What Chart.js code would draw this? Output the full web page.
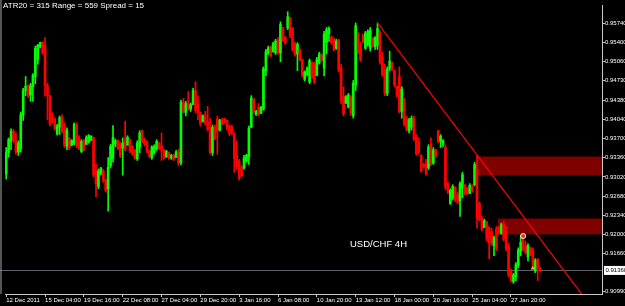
<!DOCTYPE html>
<html>
<head>
<meta charset="utf-8">
<script src="https://cdn.jsdelivr.net/npm/chart.js@4.4.1/dist/chart.umd.min.js"></script>
<style>
  html, body { margin: 0; padding: 0; background: #000; }
  #wrap { width: 625px; height: 306px; }
</style>
</head>
<body>
<div id="wrap"><canvas id="fxChart" width="625" height="306"></canvas></div>
<script>
// USD/CHF 4H candles
const open = [
  0.9307,0.9345,0.9366,0.9383,0.9366,0.9346,0.9352,0.9412,0.9455,0.9463,
  0.9447,0.9462,0.9480,0.9510,0.9533,0.9540,0.9535,0.9464,0.9446,0.9412,
  0.9404,0.9378,0.9390,0.9408,0.9392,0.9356,0.9370,0.9358,0.9362,0.9395,
  0.9372,0.9347,0.9366,0.9360,0.9364,0.9367,0.9372,0.9315,0.9285,0.9308,
  0.9313,0.9296,0.9281,0.9322,0.9335,0.9360,0.9366,0.9360,0.9353,0.9368,
  0.9358,0.9368,0.9356,0.9350,0.9334,0.9355,0.9382,0.9368,0.9365,0.9348,
  0.9336,0.9345,0.9352,0.9362,0.9357,0.9350,0.9338,0.9345,0.9335,0.9340,
  0.9336,0.9346,0.9327,0.9434,0.9416,0.9432,0.9422,0.9430,0.9455,0.9432,
  0.9416,0.9400,0.9412,0.9400,0.9388,0.9345,0.9390,0.9405,0.9385,0.9403,
  0.9405,0.9402,0.9392,0.9390,0.9377,0.9340,0.9330,0.9318,0.9318,0.9330,
  0.9338,0.9390,0.9440,0.9412,0.9425,0.9415,0.9422,0.9490,0.9522,0.9532,
  0.9524,0.9522,0.9544,0.9522,0.9566,0.9550,0.9566,0.9584,0.9566,0.9538,
  0.9520,0.9528,0.9510,0.9475,0.9484,0.9470,0.9505,0.9500,0.9482,0.9505,
  0.9518,0.9495,0.9540,0.9556,0.9550,0.9546,0.9530,0.9544,0.9495,0.9445,
  0.9433,0.9426,0.9444,0.9410,0.9465,0.9555,0.9535,0.9553,0.9530,0.9536,
  0.9530,0.9548,0.9533,0.9535,0.9558,0.9515,0.9490,0.9450,0.9494,0.9505,
  0.9490,0.9462,0.9480,0.9418,0.9440,0.9405,0.9384,0.9390,0.9406,0.9372,
  0.9365,0.9340,0.9324,0.9325,0.9318,0.9360,0.9326,0.9350,0.9383,0.9365,
  0.9360,0.9354,0.9290,0.9255,0.9265,0.9284,0.9270,0.9260,0.9282,0.9288,
  0.9282,0.9273,0.9287,0.9288,0.9316,0.9255,0.9228,0.9212,0.9222,0.9212,
  0.9205,0.9180,0.9210,0.9212,0.9202,0.9218,0.9205,0.9180,0.9135,0.9116,
  0.9125,0.9145,0.9170,0.9190,0.9180,0.9160,0.9176,0.9172,0.9135,0.9156,
  0.9140
];
const high = [
  0.9354,0.9371,0.9387,0.9386,0.9380,0.9366,0.9417,0.9459,0.9480,0.9465,
  0.9468,0.9485,0.9534,0.9537,0.9541,0.9542,0.9549,0.9468,0.9447,0.9416,
  0.9407,0.9395,0.9410,0.9412,0.9398,0.9389,0.9372,0.9368,0.9398,0.9398,
  0.9375,0.9368,0.9368,0.9375,0.9377,0.9375,0.9372,0.9324,0.9316,0.9319,
  0.9315,0.9298,0.9336,0.9360,0.9393,0.9369,0.9367,0.9363,0.9371,0.9401,
  0.9375,0.9369,0.9358,0.9350,0.9366,0.9384,0.9385,0.9371,0.9366,0.9349,
  0.9357,0.9359,0.9368,0.9363,0.9380,0.9351,0.9349,0.9346,0.9342,0.9342,
  0.9349,0.9351,0.9438,0.9441,0.9436,0.9453,0.9433,0.9459,0.9471,0.9445,
  0.9417,0.9412,0.9418,0.9427,0.9406,0.9394,0.9394,0.9410,0.9404,0.9406,
  0.9406,0.9403,0.9394,0.9394,0.9380,0.9366,0.9333,0.9322,0.9340,0.9342,
  0.9392,0.9446,0.9441,0.9420,0.9432,0.9427,0.9497,0.9528,0.9534,0.9534,
  0.9541,0.9546,0.9549,0.9577,0.9567,0.9551,0.9595,0.9585,0.9567,0.9541,
  0.9540,0.9529,0.9511,0.9490,0.9497,0.9511,0.9506,0.9505,0.9514,0.9523,
  0.9520,0.9560,0.9567,0.9568,0.9552,0.9549,0.9546,0.9546,0.9502,0.9462,
  0.9446,0.9450,0.9446,0.9473,0.9575,0.9558,0.9541,0.9555,0.9560,0.9563,
  0.9567,0.9549,0.9551,0.9575,0.9560,0.9523,0.9502,0.9497,0.9525,0.9506,
  0.9491,0.9463,0.9497,0.9462,0.9441,0.9410,0.9406,0.9410,0.9410,0.9377,
  0.9371,0.9341,0.9326,0.9333,0.9359,0.9371,0.9354,0.9351,0.9385,0.9377,
  0.9368,0.9359,0.9293,0.9281,0.9288,0.9284,0.9275,0.9293,0.9310,0.9288,
  0.9284,0.9290,0.9288,0.9328,0.9340,0.9258,0.9232,0.9227,0.9223,0.9214,
  0.9211,0.9197,0.9214,0.9214,0.9220,0.9223,0.9214,0.9185,0.9139,0.9131,
  0.9150,0.9176,0.9197,0.9197,0.9188,0.9183,0.9177,0.9176,0.9157,0.9157,
  0.9142
];
const low = [
  0.9298,0.9337,0.9350,0.9362,0.9342,0.9340,0.9346,0.9402,0.9446,0.9443,
  0.9436,0.9436,0.9467,0.9502,0.9531,0.9519,0.9445,0.9403,0.9392,0.9397,
  0.9385,0.9376,0.9377,0.9380,0.9354,0.9350,0.9350,0.9357,0.9359,0.9354,
  0.9350,0.9345,0.9348,0.9359,0.9362,0.9366,0.9301,0.9267,0.9281,0.9306,
  0.9292,0.9275,0.9241,0.9318,0.9328,0.9355,0.9350,0.9336,0.9305,0.9348,
  0.9358,0.9345,0.9340,0.9333,0.9331,0.9345,0.9362,0.9357,0.9345,0.9336,
  0.9333,0.9342,0.9349,0.9350,0.9331,0.9333,0.9336,0.9333,0.9333,0.9331,
  0.9336,0.9322,0.9323,0.9415,0.9410,0.9420,0.9418,0.9430,0.9415,0.9403,
  0.9392,0.9399,0.9394,0.9383,0.9342,0.9340,0.9368,0.9342,0.9383,0.9394,
  0.9397,0.9385,0.9375,0.9377,0.9310,0.9315,0.9296,0.9301,0.9315,0.9328,
  0.9324,0.9389,0.9415,0.9411,0.9410,0.9414,0.9420,0.9481,0.9519,0.9514,
  0.9523,0.9519,0.9519,0.9506,0.9542,0.9537,0.9563,0.9549,0.9525,0.9516,
  0.9490,0.9507,0.9479,0.9472,0.9481,0.9467,0.9476,0.9467,0.9481,0.9502,
  0.9507,0.9481,0.9520,0.9542,0.9537,0.9525,0.9528,0.9488,0.9432,0.9410,
  0.9432,0.9424,0.9411,0.9406,0.9455,0.9520,0.9506,0.9540,0.9528,0.9534,
  0.9525,0.9532,0.9528,0.9528,0.9502,0.9480,0.9446,0.9446,0.9490,0.9490,
  0.9462,0.9444,0.9415,0.9406,0.9392,0.9383,0.9380,0.9385,0.9366,0.9340,
  0.9342,0.9310,0.9318,0.9305,0.9315,0.9322,0.9324,0.9336,0.9362,0.9354,
  0.9355,0.9279,0.9272,0.9253,0.9261,0.9258,0.9254,0.9232,0.9265,0.9270,
  0.9270,0.9272,0.9275,0.9286,0.9211,0.9223,0.9206,0.9212,0.9188,0.9157,
  0.9180,0.9162,0.9171,0.9200,0.9200,0.9188,0.9171,0.9124,0.9115,0.9113,
  0.9118,0.9141,0.9162,0.9171,0.9165,0.9153,0.9162,0.9141,0.9132,0.9118,
  0.9133
];
const close = [
  0.9345,0.9368,0.9383,0.9366,0.9346,0.9362,0.9412,0.9455,0.9463,0.9447,
  0.9464,0.9482,0.9530,0.9535,0.9540,0.9522,0.9464,0.9446,0.9396,0.9400,
  0.9388,0.9392,0.9407,0.9384,0.9358,0.9385,0.9353,0.9366,0.9395,0.9357,
  0.9353,0.9365,0.9351,0.9372,0.9375,0.9374,0.9305,0.9290,0.9312,0.9317,
  0.9295,0.9278,0.9319,0.9356,0.9372,0.9366,0.9353,0.9340,0.9362,0.9352,
  0.9372,0.9348,0.9343,0.9336,0.9362,0.9380,0.9365,0.9360,0.9348,0.9339,
  0.9355,0.9356,0.9365,0.9353,0.9349,0.9336,0.9347,0.9336,0.9340,0.9333,
  0.9346,0.9326,0.9434,0.9418,0.9432,0.9423,0.9430,0.9455,0.9420,0.9416,
  0.9396,0.9410,0.9397,0.9387,0.9346,0.9390,0.9371,0.9384,0.9402,0.9396,
  0.9398,0.9388,0.9378,0.9380,0.9334,0.9320,0.9300,0.9304,0.9336,0.9340,
  0.9388,0.9442,0.9418,0.9418,0.9413,0.9425,0.9494,0.9524,0.9531,0.9517,
  0.9538,0.9543,0.9522,0.9572,0.9545,0.9539,0.9586,0.9552,0.9528,0.9519,
  0.9537,0.9510,0.9482,0.9488,0.9494,0.9508,0.9480,0.9470,0.9510,0.9520,
  0.9509,0.9555,0.9563,0.9565,0.9540,0.9528,0.9543,0.9492,0.9437,0.9414,
  0.9444,0.9447,0.9415,0.9468,0.9570,0.9524,0.9510,0.9542,0.9557,0.9560,
  0.9562,0.9535,0.9549,0.9565,0.9506,0.9483,0.9450,0.9493,0.9507,0.9492,
  0.9465,0.9447,0.9418,0.9458,0.9396,0.9386,0.9403,0.9406,0.9370,0.9343,
  0.9346,0.9313,0.9320,0.9308,0.9355,0.9326,0.9350,0.9339,0.9365,0.9374,
  0.9366,0.9284,0.9275,0.9278,0.9285,0.9262,0.9257,0.9290,0.9306,0.9273,
  0.9272,0.9287,0.9278,0.9324,0.9228,0.9226,0.9209,0.9224,0.9192,0.9185,
  0.9184,0.9194,0.9175,0.9203,0.9217,0.9192,0.9175,0.9128,0.9118,0.9128,
  0.9146,0.9172,0.9186,0.9175,0.9168,0.9180,0.9165,0.9145,0.9154,0.9140,
  0.9136
];

// time axis labels, one every 16 bars
const timeLabels = ['12 Dec 2011', '15 Dec 04:00', '19 Dec 16:00', '22 Dec 08:00', '27 Dec 04:00',
  '29 Dec 20:00', '3 Jan 16:00', '6 Jan 08:00', '10 Jan 20:00', '13 Jan 12:00',
  '18 Jan 00:00', '20 Jan 16:00', '25 Jan 04:00', '27 Jan 20:00'];
const timeTickBars = [0, 16, 32, 48, 64, 80, 96, 112, 128, 144, 160, 176, 192, 208];
const barSlots = 246; // includes the empty shift area on the right

const priceTicks = [0.95740, 0.95400, 0.95060, 0.94730, 0.94380, 0.94040, 0.93700,
  0.93360, 0.93020, 0.92680, 0.92340, 0.92000, 0.91660, 0.90990];
const priceMin = 0.90942;
const priceMax = 0.96068;
const currentPrice = 0.91360;

// trend line (bar index, price)
const trendBars = [153, 237];
const trendPrices = [0.9575, 0.9095];

// supply zones
const zoneStartBar = [194, 203];
const zoneTop = [0.9338, 0.9228];
const zoneBottom = [0.9305, 0.9200];

// little objects on the last bars
const markerBar = [213];
const markerPrice = [0.9197];
const arrowBar = [217];
const arrowPrice = [0.9140];

const infoText = 'ATR20 = 315 Range = 559 Spread = 15';
const symbolText = 'USD/CHF 4H';

const UP = '#00ff00';
const DOWN = '#ff0000';
const FONT = '"Liberation Sans", Arial, sans-serif';

function candleColor(ctx) {
  const i = ctx.dataIndex;
  return close[i] >= open[i] ? UP : DOWN;
}

const overlayPlugin = {
  id: 'overlay',
  beforeDatasetsDraw(chart) {
    const {ctx, chartArea, scales} = chart;
    ctx.save();
    ctx.fillStyle = '#800000';
    for (let i = 0; i < zoneStartBar.length; i++) {
      const left = scales.x.getPixelForValue(zoneStartBar[i]) - 1;
      const top = scales.y.getPixelForValue(zoneTop[i]);
      const bottom = scales.y.getPixelForValue(zoneBottom[i]);
      ctx.fillRect(left, top, chartArea.right - left, bottom - top);
    }
    // bid line
    const py = Math.round(scales.y.getPixelForValue(currentPrice)) + 0.5;
    ctx.strokeStyle = '#5e636b';
    ctx.lineWidth = 1;
    ctx.beginPath();
    ctx.moveTo(0, py);
    ctx.lineTo(chartArea.right, py);
    ctx.stroke();
    ctx.restore();
  },
  afterDraw(chart) {
    const {ctx, chartArea, scales} = chart;
    ctx.save();
    // left frame
    ctx.strokeStyle = '#a8a8a8';
    ctx.lineWidth = 1;
    ctx.beginPath();
    ctx.moveTo(1, 0);
    ctx.lineTo(1, chartArea.bottom);
    ctx.stroke();

    ctx.fillStyle = '#ffffff';
    ctx.textBaseline = 'top';
    ctx.font = '8px ' + FONT;
    ctx.fillText(infoText, 3, 2);

    ctx.textBaseline = 'middle';
    ctx.font = '9.5px ' + FONT;
    ctx.fillText(symbolText, 350, 244);

    // current price box on the price axis
    const py = scales.y.getPixelForValue(currentPrice);
    ctx.fillStyle = '#ffffff';
    ctx.fillRect(chartArea.right + 2, py - 4.5, 23, 9);
    ctx.fillStyle = '#000000';
    ctx.font = '6px ' + FONT;
    ctx.fillText(currentPrice.toFixed(5), chartArea.right + 3.5, py);
    ctx.restore();
  }
};

const ctx = document.getElementById('fxChart').getContext('2d');
new Chart(ctx, {
  type: 'bar',
  data: {
    datasets: [
      {
        label: 'wick',
        data: high.map((h, i) => ({x: i, y: [low[i], h]})),
        backgroundColor: candleColor,
        barThickness: 1,
        grouped: false,
        order: 2
      },
      {
        label: 'body',
        data: open.map((o, i) => ({x: i, y: [o, close[i]]})),
        backgroundColor: candleColor,
        barThickness: 2,
        minBarLength: 1,
        grouped: false,
        order: 1
      },
      {
        type: 'line',
        label: 'trend',
        data: trendBars.map((b, i) => ({x: b, y: trendPrices[i]})),
        borderColor: '#ff0000',
        borderWidth: 1.2,
        pointRadius: 0,
        order: 0
      },
      {
        type: 'line',
        label: 'marker',
        data: markerBar.map((b, i) => ({x: b, y: markerPrice[i]})),
        showLine: false,
        pointRadius: 2.5,
        pointBackgroundColor: '#ff2020',
        pointBorderColor: '#ffffff',
        pointBorderWidth: 1,
        order: 0
      },
      {
        type: 'line',
        label: 'arrow',
        data: arrowBar.map((b, i) => ({x: b, y: arrowPrice[i]})),
        showLine: false,
        pointStyle: 'triangle',
        pointRadius: 2,
        pointBackgroundColor: '#ffa030',
        pointBorderColor: '#ffd080',
        pointBorderWidth: 0.5,
        order: 0
      }
    ]
  },
  options: {
    responsive: false,
    animation: false,
    devicePixelRatio: 1,
    layout: { padding: { left: 1.5, right: 0, top: 0, bottom: 0 } },
    plugins: {
      legend: { display: false },
      tooltip: { enabled: false },
      title: { display: false }
    },
    scales: {
      x: {
        type: 'linear',
        min: -0.5,
        max: barSlots - 0.5,
        offset: false,
        afterBuildTicks: (scale) => {
          scale.ticks = timeTickBars.map(v => ({value: v}));
        },
        afterFit: (scale) => { scale.height = 12; },
        grid: {
          display: true,
          offset: false,
          drawOnChartArea: false,
          drawTicks: true,
          tickLength: 3,
          color: '#c8c8c8'
        },
        border: { display: true, color: '#c8c8c8', width: 1 },
        ticks: {
          autoSkip: false,
          maxRotation: 0,
          minRotation: 0,
          align: 'start',
          padding: 0,
          color: '#ffffff',
          font: { family: FONT, size: 6 },
          callback: (value) => timeLabels[timeTickBars.indexOf(value)]
        }
      },
      y: {
        type: 'linear',
        position: 'right',
        min: priceMin,
        max: priceMax,
        afterBuildTicks: (scale) => {
          scale.ticks = priceTicks.map(v => ({value: v}));
        },
        afterFit: (scale) => { scale.width = 23; },
        grid: {
          display: true,
          drawOnChartArea: false,
          drawTicks: true,
          tickLength: 3,
          color: '#c8c8c8'
        },
        border: { display: true, color: '#c8c8c8', width: 1 },
        ticks: {
          autoSkip: false,
          padding: 0,
          color: '#ffffff',
          font: { family: FONT, size: 6 },
          callback: (value) => value.toFixed(5)
        }
      }
    }
  },
  plugins: [overlayPlugin]
});
</script>
</body>
</html>
